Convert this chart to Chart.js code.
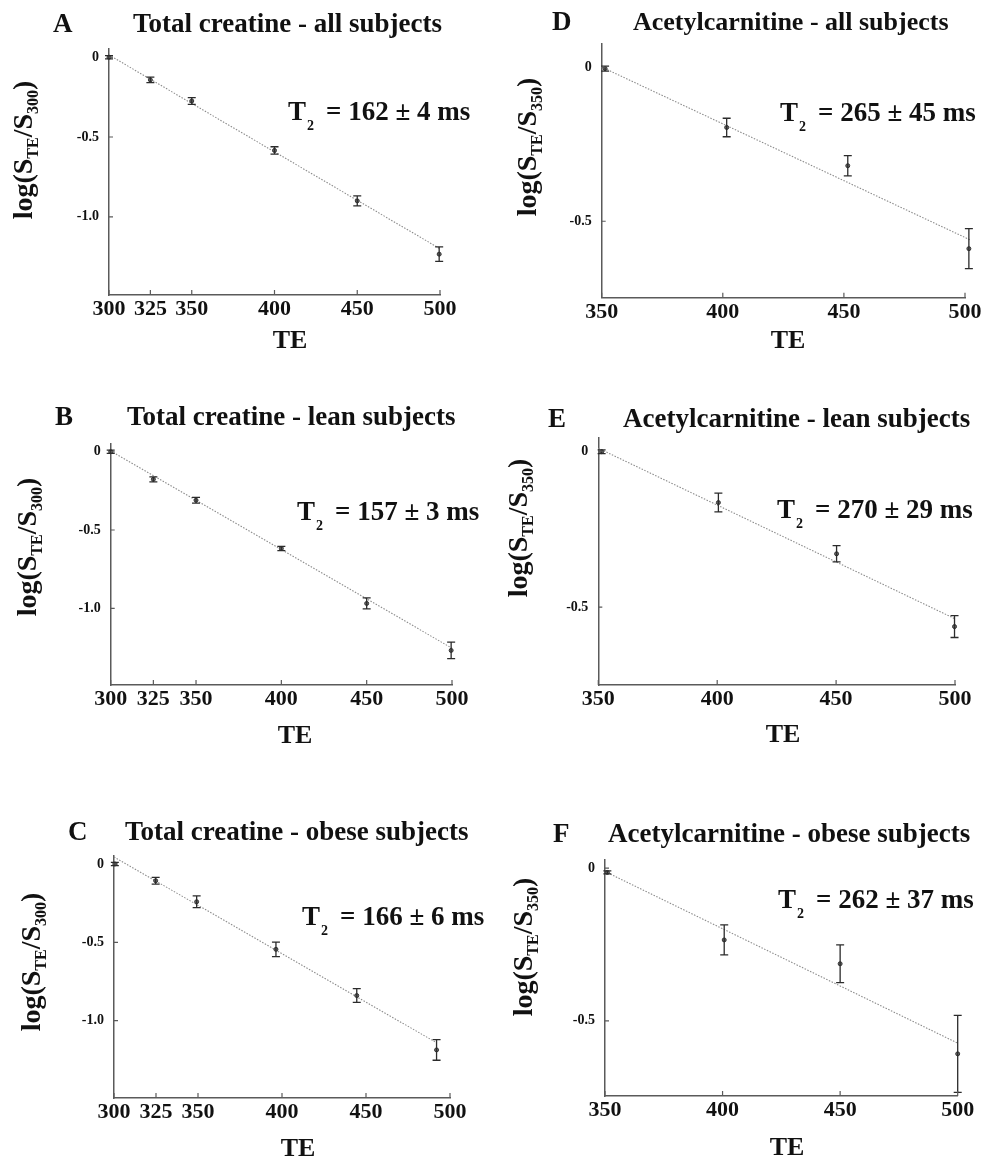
<!DOCTYPE html>
<html>
<head>
<meta charset="utf-8">
<script src="https://cdn.jsdelivr.net/npm/chart.js@4.4.1/dist/chart.umd.min.js"></script>
<style>
  body { margin: 0; background: #fff; }
  #pagina { position: relative; width: 983px; height: 1160px; overflow: hidden; }
  #pagina canvas { position: absolute; }
</style>
</head>
<body>
<div id="pagina"></div>
<script>
// ticks de los ejes
const ticksXcreatina = [300, 325, 350, 400, 450, 500];
const ticksXacetil = [350, 400, 450, 500];
const ticksYcreatina = [0, -0.5, -1.0];
const ticksYacetil = [0, -0.5];

// A - creatina, todos
const teA = [300, 325, 350, 400, 450, 499.5];
const logA = [0, -0.142, -0.274, -0.584, -0.9, -1.234];
const errA = [0.01, 0.017, 0.021, 0.023, 0.031, 0.045];
const ajusteTeA = [300, 500];
const ajusteLogA = [0.014, -1.2];

// B - creatina, delgados
const teB = [300, 325, 350, 400, 450, 499.5];
const logB = [0, -0.176, -0.31, -0.618, -0.969, -1.269];
const errB = [0.01, 0.016, 0.018, 0.014, 0.035, 0.053];
const ajusteTeB = [300, 500];
const ajusteLogB = [0.005, -1.255];

// C - creatina, obesos
const teC = [300.5, 324.8, 349.2, 396.4, 444.5, 492];
const logC = [0, -0.107, -0.241, -0.545, -0.84, -1.187];
const errC = [0.01, 0.022, 0.038, 0.046, 0.044, 0.066];
const ajusteTeC = [300, 491];
const ajusteLogC = [0.045, -1.135];

// D - acetilcarnitina, todos
const teD = [351.4, 401.6, 451.6, 501.6];
const logD = [-0.005, -0.196, -0.32, -0.589];
const errD = [0.008, 0.03, 0.033, 0.065];
const ajusteTeD = [350, 502];
const ajusteLogD = [0.0, -0.56];

// E - acetilcarnitina, delgados
const teE = [351.4, 400.5, 450.2, 499.8];
const logE = [-0.002, -0.165, -0.329, -0.562];
const errE = [0.006, 0.03, 0.026, 0.035];
const ajusteTeE = [350, 500];
const ajusteLogE = [0.009, -0.537];

// F - acetilcarnitina, obesos
const teF = [351, 400.7, 450, 500];
const logF = [-0.014, -0.235, -0.313, -0.608];
const errF = [0.005, 0.049, 0.062, 0.126];
const ajusteTeF = [350, 500];
const ajusteLogF = [-0.011, -0.573];

const FUENTE = '"Liberation Serif", "Times New Roman", serif';

const paneles = [
  { letra: "A", titulo: "Total creatine - all subjects", tamTitulo: 27, ref: "300", t2: "= 162 \u00b1 4 ms",
    te: teA, log: logA, err: errA, ajTe: ajusteTeA, ajLog: ajusteLogA,
    ticksX: ticksXcreatina, ticksY: ticksYcreatina, xMin: 300, xMax: 500, yMin: -1.49, yMax: 0.056,
    caja: [0, 0, 490, 380], area: [109, 48.3, 440, 295],
    pLetra: [53, 32], pTitulo: [133, 32], pT2: [288, 120], pEtiqY: [32, 150], pTE: [290, 348] },
  { letra: "B", titulo: "Total creatine - lean subjects", tamTitulo: 27, ref: "300", t2: "= 157 \u00b1 3 ms",
    te: teB, log: logB, err: errB, ajTe: ajusteTeB, ajLog: ajusteLogB,
    ticksX: ticksXcreatina, ticksY: ticksYcreatina, xMin: 300, xMax: 500, yMin: -1.49, yMax: 0.054,
    caja: [0, 380, 490, 410], area: [110.7, 443.3, 452, 685],
    pLetra: [55, 425], pTitulo: [127, 425], pT2: [297, 520], pEtiqY: [36, 547], pTE: [295, 743] },
  { letra: "C", titulo: "Total creatine - obese subjects", tamTitulo: 27, ref: "300", t2: "= 166 \u00b1 6 ms",
    te: teC, log: logC, err: errC, ajTe: ajusteTeC, ajLog: ajusteLogC,
    ticksX: ticksXcreatina, ticksY: ticksYcreatina, xMin: 300, xMax: 500, yMin: -1.494, yMax: 0.051,
    caja: [0, 790, 490, 370], area: [114, 856, 450, 1098],
    pLetra: [68, 840], pTitulo: [125, 840], pT2: [302, 925], pEtiqY: [40, 962], pTE: [298, 1156] },
  { letra: "D", titulo: "Acetylcarnitine - all subjects", tamTitulo: 26, ref: "350", t2: "= 265 \u00b1 45 ms",
    te: teD, log: logD, err: errD, ajTe: ajusteTeD, ajLog: ajusteLogD,
    ticksX: ticksXacetil, ticksY: ticksYacetil, xMin: 350, xMax: 500, yMin: -0.748, yMax: 0.077,
    caja: [490, 0, 493, 380], area: [601.7, 43.3, 965, 297.7],
    pLetra: [552, 30], pTitulo: [633, 30], pT2: [780, 121], pEtiqY: [536, 147], pTE: [788, 348] },
  { letra: "E", titulo: "Acetylcarnitine - lean subjects", tamTitulo: 27, ref: "350", t2: "= 270 \u00b1 29 ms",
    te: teE, log: logE, err: errE, ajTe: ajusteTeE, ajLog: ajusteLogE,
    ticksX: ticksXacetil, ticksY: ticksYacetil, xMin: 350, xMax: 500, yMin: -0.749, yMax: 0.044,
    caja: [490, 380, 493, 410], area: [598.3, 437.3, 955, 685],
    pLetra: [548, 427], pTitulo: [623, 427], pT2: [777, 518], pEtiqY: [527, 528], pTE: [783, 742] },
  { letra: "F", titulo: "Acetylcarnitine - obese subjects", tamTitulo: 27, ref: "350", t2: "= 262 \u00b1 37 ms",
    te: teF, log: logF, err: errF, ajTe: ajusteTeF, ajLog: ajusteLogF,
    ticksX: ticksXacetil, ticksY: ticksYacetil, xMin: 350, xMax: 500, yMin: -0.746, yMax: 0.029,
    caja: [490, 790, 493, 370], area: [605, 859.3, 957.7, 1096],
    pLetra: [553, 842], pTitulo: [608, 842], pT2: [778, 908], pEtiqY: [532, 947], pTE: [787, 1155] },
];

function fuente(tam) {
  return "bold " + tam + "px " + FUENTE;
}

function dibujarEtiquetaY(ctx, x, y, ref) {
  const partes = [
    { t: "log(S", s: 28, dy: 0 },
    { t: "TE", s: 16, dy: 6 },
    { t: "/S", s: 28, dy: 0 },
    { t: ref, s: 16, dy: 6 },
    { t: ")", s: 28, dy: 0 },
  ];
  ctx.save();
  ctx.translate(x, y);
  ctx.rotate(-Math.PI / 2);
  let total = 0;
  partes.forEach((p) => {
    ctx.font = fuente(p.s);
    p.w = ctx.measureText(p.t).width;
    total += p.w;
  });
  let cx = -total / 2;
  ctx.textAlign = "left";
  ctx.textBaseline = "alphabetic";
  partes.forEach((p) => {
    ctx.font = fuente(p.s);
    ctx.fillText(p.t, cx, p.dy);
    cx += p.w;
  });
  ctx.restore();
}

function crearPluginExtras(panel) {
  const ox = panel.caja[0];
  const oy = panel.caja[1];
  return {
    id: "extras" + panel.letra,
    afterDatasetsDraw(chart) {
      const ctx = chart.ctx;
      const escX = chart.scales.x;
      const escY = chart.scales.y;
      const area = chart.chartArea;

      // barras de error
      const meta = chart.getDatasetMeta(0);
      ctx.save();
      ctx.strokeStyle = "#2b2b2b";
      ctx.lineWidth = 1.3;
      meta.data.forEach((punto, i) => {
        const v = panel.log[i];
        const e = panel.err[i];
        const y1 = escY.getPixelForValue(v + e);
        const y2 = escY.getPixelForValue(v - e);
        const x = punto.x;
        ctx.beginPath();
        ctx.moveTo(x, y1);
        ctx.lineTo(x, y2);
        ctx.moveTo(x - 4, y1);
        ctx.lineTo(x + 4, y1);
        ctx.moveTo(x - 4, y2);
        ctx.lineTo(x + 4, y2);
        ctx.stroke();
      });

      // marcas hacia dentro
      ctx.strokeStyle = "#5a5a5a";
      ctx.lineWidth = 1.2;
      ctx.beginPath();
      panel.ticksX.forEach((v) => {
        const x = escX.getPixelForValue(v);
        ctx.moveTo(x, area.bottom);
        ctx.lineTo(x, area.bottom - 5);
      });
      panel.ticksY.forEach((v) => {
        const y = escY.getPixelForValue(v);
        ctx.moveTo(area.left, y);
        ctx.lineTo(area.left + 4, y);
      });
      ctx.stroke();

      // textos
      ctx.fillStyle = "#111";
      ctx.textBaseline = "alphabetic";
      ctx.textAlign = "left";
      ctx.font = fuente(27);
      ctx.fillText(panel.letra, panel.pLetra[0] - ox, panel.pLetra[1] - oy);
      ctx.font = fuente(panel.tamTitulo);
      ctx.fillText(panel.titulo, panel.pTitulo[0] - ox, panel.pTitulo[1] - oy);

      const tx = panel.pT2[0] - ox;
      const ty = panel.pT2[1] - oy;
      ctx.font = fuente(27);
      ctx.fillText("T", tx, ty);
      const anchoT = ctx.measureText("T").width;
      ctx.font = fuente(14);
      ctx.fillText("2", tx + anchoT + 1, ty + 10);
      ctx.font = fuente(27);
      ctx.fillText(panel.t2, tx + 38, ty);

      ctx.font = fuente(26);
      ctx.textAlign = "center";
      ctx.fillText("TE", panel.pTE[0] - ox, panel.pTE[1] - oy);

      dibujarEtiquetaY(ctx, panel.pEtiqY[0] - ox, panel.pEtiqY[1] - oy, panel.ref);
      ctx.restore();
    },
  };
}

function crearGrafico(panel) {
  const [cx, cy, cw, ch] = panel.caja;
  const [L, T, R, B] = panel.area;
  const lienzo = document.createElement("canvas");
  lienzo.width = cw;
  lienzo.height = ch;
  lienzo.style.left = cx + "px";
  lienzo.style.top = cy + "px";
  lienzo.style.width = cw + "px";
  lienzo.style.height = ch + "px";
  document.getElementById("pagina").appendChild(lienzo);

  new Chart(lienzo.getContext("2d"), {
    type: "scatter",
    data: {
      datasets: [
        {
          data: panel.te.map((x, i) => ({ x: x, y: panel.log[i] })),
          pointRadius: 2,
          pointBackgroundColor: "#6a6a6a",
          pointBorderColor: "#333",
          pointBorderWidth: 1,
          clip: false,
          order: 1,
        },
        {
          data: panel.ajTe.map((x, i) => ({ x: x, y: panel.ajLog[i] })),
          showLine: true,
          borderColor: "#8c8c8c",
          borderWidth: 1.1,
          borderDash: [1.5, 1.5],
          pointRadius: 0,
          fill: false,
          clip: false,
          order: 2,
        },
      ],
    },
    options: {
      responsive: false,
      animation: false,
      events: [],
      layout: {
        autoPadding: false,
        padding: { left: 0, top: T - cy, right: cx + cw - R, bottom: 0 },
      },
      plugins: { legend: { display: false }, tooltip: { enabled: false } },
      scales: {
        x: {
          type: "linear",
          min: panel.xMin,
          max: panel.xMax,
          grid: { display: false, drawTicks: false },
          border: { display: true, color: "#5a5a5a", width: 1.5 },
          ticks: {
            autoSkip: false,
            maxRotation: 0,
            padding: 1,
            color: "#111",
            font: { family: FUENTE, size: 22, weight: "bold" },
            callback: (v) => String(v),
          },
          afterBuildTicks: (escala) => {
            escala.ticks = panel.ticksX.map((v) => ({ value: v }));
          },
          afterFit: (escala) => {
            escala.height = cy + ch - B;
          },
        },
        y: {
          type: "linear",
          min: panel.yMin,
          max: panel.yMax,
          grid: { display: false, drawTicks: false },
          border: { display: true, color: "#5a5a5a", width: 1.5 },
          ticks: {
            autoSkip: false,
            padding: 10,
            color: "#111",
            font: { family: FUENTE, size: 14, weight: "bold" },
            callback: (v) => (v === 0 ? "0" : v.toFixed(1)),
          },
          afterBuildTicks: (escala) => {
            escala.ticks = panel.ticksY.map((v) => ({ value: v }));
          },
          afterFit: (escala) => {
            escala.width = L - cx;
          },
        },
      },
    },
    plugins: [crearPluginExtras(panel)],
  });
}

function mostrarPaneles() {
  paneles.forEach(crearGrafico);
}

document.addEventListener("DOMContentLoaded", mostrarPaneles);
</script>
</body>
</html>
